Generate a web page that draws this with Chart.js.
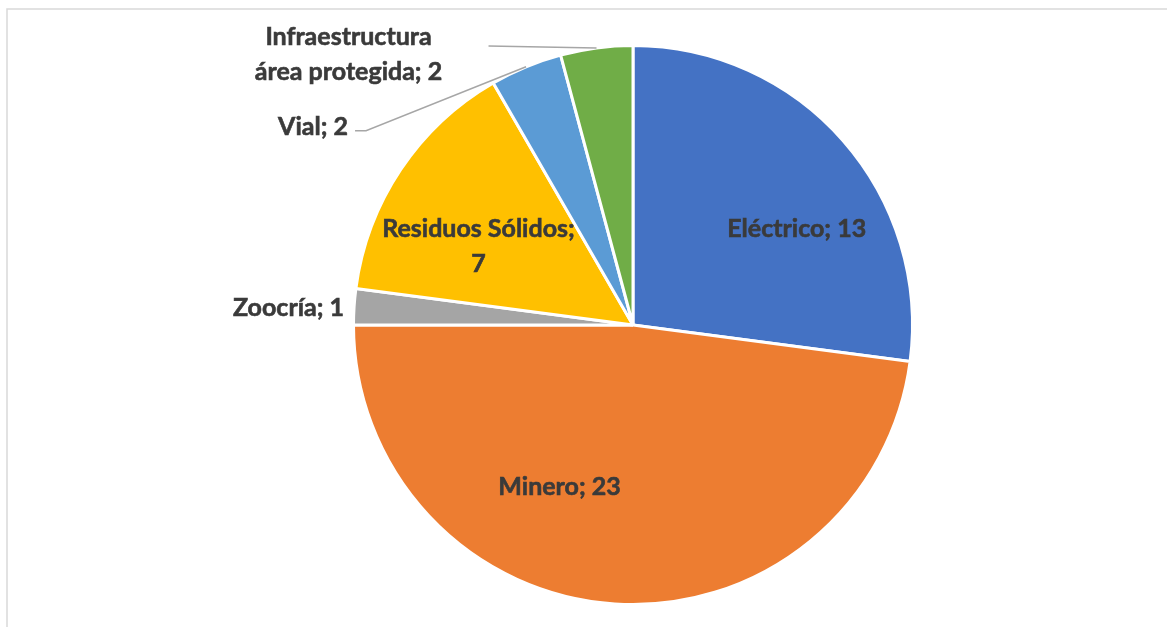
<!DOCTYPE html>
<html>
<head>
<meta charset="utf-8">
<script src="https://cdn.jsdelivr.net/npm/chart.js@4.4.1/dist/chart.umd.min.js"></script>
<style>
  html, body { margin: 0; padding: 0; background: #fff; }
</style>
</head>
<body>
<canvas id="sectorChart" width="1167" height="627"></canvas>
<script>
// Datos del gráfico
const categorias = ["Eléctrico", "Minero", "Zoocría", "Residuos Sólidos", "Vial", "Infraestructura área protegida"];
const cantidades = [13, 23, 1, 7, 2, 2];
const colores = ["#4472C4", "#ED7D31", "#A5A5A5", "#FFC000", "#5B9BD5", "#70AD47"];

// Ubicación de etiquetas (solo estilo, relativo a cada sector)
// corte = cantidad de palabras en la primera línea
const ubicaciones = [
  { modo: "dentro", t: 0.61, r: 0.68 },
  { modo: "dentro", t: 0.62, r: 0.635 },
  { modo: "fuera", dx: -10, dy: 1, align: "right" },
  { modo: "dentro", t: 0.37, r: 0.62, corte: 2 },
  { modo: "guia", codo: [-160, 64], fin: -11, dx: -18, dy: -4, align: "right" },
  { modo: "guia", codo: [-108, -2], fin: 0, dx: -140, dy: 9, align: "center", corte: 1 }
];

const FUENTE = "bold 25px Lato";
const COLOR_TEXTO = "#3a3a3a";
const ALTO_LINEA = 35;

function partirTexto(texto, corte) {
  if (!corte) return [texto];
  const palabras = texto.split(" ");
  return [palabras.slice(0, corte).join(" "), palabras.slice(corte).join(" ")];
}

function dibujarLineas(ctx, lineas, x, y, align) {
  ctx.textAlign = align;
  const y0 = y - (lineas.length - 1) * ALTO_LINEA / 2;
  lineas.forEach((l, i) => {
    // trazo fino para engrosar un poco la negrita
    ctx.strokeText(l, x, y0 + i * ALTO_LINEA);
    ctx.fillText(l, x, y0 + i * ALTO_LINEA);
  });
}

const marcoPlugin = {
  id: "marco",
  beforeDraw(chart) {
    const ctx = chart.ctx;
    ctx.save();
    ctx.strokeStyle = "#d9d9d9";
    ctx.lineWidth = 1.5;
    ctx.beginPath();
    ctx.moveTo(7, chart.height);
    ctx.lineTo(7, 9);
    ctx.lineTo(chart.width, 9);
    ctx.stroke();
    ctx.restore();
  }
};

const etiquetasPlugin = {
  id: "etiquetas",
  afterDatasetsDraw(chart) {
    const ctx = chart.ctx;
    const arcos = chart.getDatasetMeta(0).data;
    ctx.save();
    ctx.font = FUENTE;
    ctx.textBaseline = "middle";
    arcos.forEach((arco, i) => {
      const u = ubicaciones[i];
      const texto = categorias[i] + "; " + cantidades[i];
      const lineas = partirTexto(texto, u.corte);
      const a0 = arco.startAngle, a1 = arco.endAngle;
      const R = arco.outerRadius;
      ctx.fillStyle = COLOR_TEXTO;
      ctx.strokeStyle = COLOR_TEXTO;
      ctx.lineWidth = 0.6;
      if (u.modo === "dentro") {
        const a = a0 + (a1 - a0) * u.t;
        const x = arco.x + Math.cos(a) * R * u.r;
        const y = arco.y + Math.sin(a) * R * u.r;
        dibujarLineas(ctx, lineas, x, y, "center");
      } else {
        const a = (a0 + a1) / 2;
        const bx = arco.x + Math.cos(a) * R;
        const by = arco.y + Math.sin(a) * R;
        if (u.modo === "fuera") {
          dibujarLineas(ctx, lineas, bx + u.dx, by + u.dy, u.align);
        } else {
          const cx = bx + u.codo[0], cy = by + u.codo[1];
          ctx.save();
          ctx.strokeStyle = "#a6a6a6";
          ctx.lineWidth = 1.5;
          ctx.beginPath();
          ctx.moveTo(bx, by);
          ctx.lineTo(cx, cy);
          if (u.fin) ctx.lineTo(cx + u.fin, cy);
          ctx.stroke();
          ctx.restore();
          dibujarLineas(ctx, lineas, cx + u.dx, cy + u.dy, u.align);
        }
      }
    });
    ctx.restore();
  }
};

new Chart(document.getElementById("sectorChart"), {
  type: "pie",
  data: {
    labels: categorias,
    datasets: [{
      data: cantidades,
      backgroundColor: colores,
      borderColor: "#ffffff",
      borderWidth: 3
    }]
  },
  options: {
    responsive: false,
    animation: false,
    devicePixelRatio: 1,
    layout: { padding: { top: 44, bottom: 21, left: 300, right: 201 } },
    plugins: {
      legend: { display: false },
      tooltip: { enabled: false }
    }
  },
  plugins: [marcoPlugin, etiquetasPlugin]
});
</script>
</body>
</html>
